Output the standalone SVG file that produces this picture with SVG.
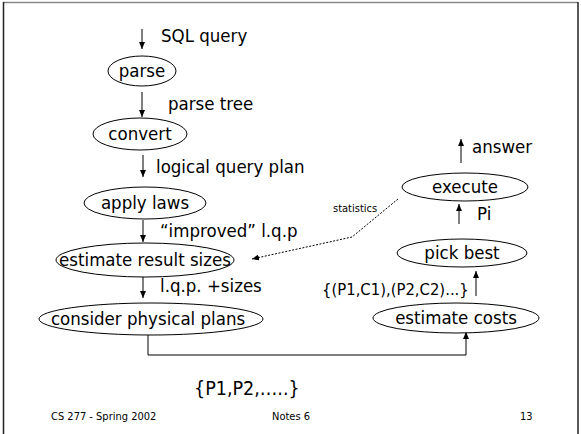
<svg xmlns="http://www.w3.org/2000/svg" width="581" height="434" viewBox="0 0 581 434">
<defs>
<marker id="ah" markerWidth="8" markerHeight="8" refX="7" refY="4" orient="auto" markerUnits="userSpaceOnUse">
<path d="M0,1 L7,4 L0,7 Z" fill="#000"/>
</marker>
<style>
text{font-family:"DejaVu Sans Condensed","DejaVu Sans",sans-serif;fill:#000}
.t{font-size:18.5px}
.n{font-size:18.5px;text-anchor:middle}
.s{font-size:16.5px}
.f{font-size:11px}
ellipse{fill:#fff;stroke:#000;stroke-width:1}
.c{stroke:#000;stroke-width:1;fill:none;marker-end:url(#ah)}
.d{stroke:#000;stroke-width:1;fill:none;stroke-dasharray:2,1.5;marker-end:url(#ah)}
</style>
</defs>
<rect x="0" y="0" width="581" height="434" fill="#fff"/>
<line x1="3" y1="2.5" x2="578" y2="2.5" stroke="#888" stroke-width="1.5"/>
<line x1="3.5" y1="2" x2="3.5" y2="434" stroke="#222" stroke-width="1.5"/>
<line x1="578" y1="2" x2="578" y2="434" stroke="#222" stroke-width="1.5"/>

<g id="connectors">
<line class="c" x1="142" y1="29" x2="142" y2="49"/>
<line class="c" x1="142" y1="92" x2="142" y2="117"/>
<line class="c" x1="143" y1="155" x2="143" y2="177"/>
<line class="c" x1="143" y1="220" x2="143" y2="242"/>
<line class="c" x1="143" y1="277" x2="143" y2="298"/>
<polyline class="c" points="148,335 148,355 466,355 466,332"/>
<line class="c" x1="476" y1="296" x2="476" y2="271"/>
<line class="c" x1="459" y1="224" x2="459" y2="204"/>
<line class="c" x1="461" y1="163" x2="461" y2="139"/>
<polyline class="d" points="398,199 352,237 252,259"/>
</g>

<g id="labels">
<text class="t" x="161" y="42">SQL query</text>
<text class="t" x="168" y="110">parse tree</text>
<text class="t" x="156" y="173">logical query plan</text>
<text class="t" x="160" y="237">“improved” l.q.p</text>
<text class="t" x="160" y="292">l.q.p. +sizes</text>
<text class="t" x="472" y="153">answer</text>
<text class="t" x="477" y="220">Pi</text>
<text class="s" x="322" y="295">{(P1,C1),(P2,C2)...}</text>
<text style="font-size:11px" x="333" y="212">statistics</text>
<text style="font-size:19.5px" x="194" y="395">{P1,P2,…..}</text>
</g>

<g id="parse"><ellipse cx="142" cy="71" rx="34" ry="15"/><text class="n" x="142" y="77">parse</text></g>
<g id="convert"><ellipse cx="140" cy="134" rx="47" ry="16"/><text class="n" x="140" y="140">convert</text></g>
<g id="apply-laws"><ellipse cx="145" cy="203" rx="61" ry="16"/><text class="n" x="145" y="209">apply laws</text></g>
<g id="estimate-result-sizes"><ellipse cx="145" cy="260" rx="89" ry="17"/><text class="n" x="145" y="266">estimate result sizes</text></g>
<g id="consider-physical-plans"><ellipse cx="151" cy="319" rx="112" ry="16"/><text class="n" x="148" y="325">consider physical plans</text></g>
<g id="execute"><ellipse cx="465" cy="187" rx="63" ry="14"/><text class="n" x="465" y="193">execute</text></g>
<g id="pick-best"><ellipse cx="462" cy="253" rx="65" ry="14"/><text class="n" x="462" y="259">pick best</text></g>
<g id="estimate-costs"><ellipse cx="456" cy="318" rx="83" ry="15"/><text class="n" x="456" y="324">estimate costs</text></g>

<g id="footer">
<text class="f" x="51" y="420">CS 277 - Spring 2002</text>
<text class="f" x="272" y="420">Notes 6</text>
<text class="f" x="520" y="420">13</text>
</g>
</svg>
